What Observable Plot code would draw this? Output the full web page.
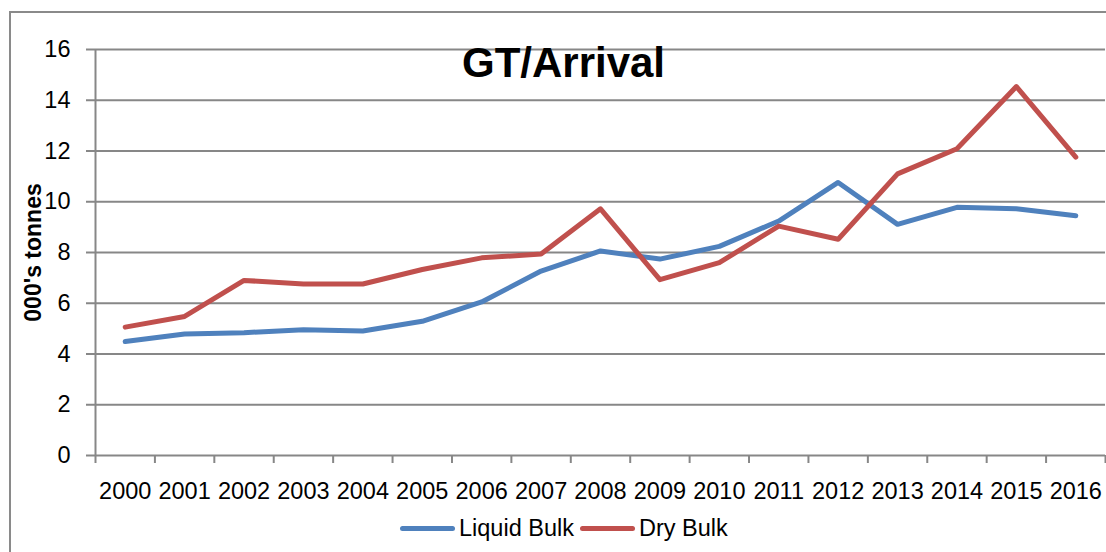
<!DOCTYPE html>
<html>
<head>
<meta charset="utf-8">
<script src="https://cdn.jsdelivr.net/npm/d3@7"></script>
<script src="https://cdn.jsdelivr.net/npm/@observablehq/plot@0.6"></script>
<style>
  html, body { margin: 0; padding: 0; background: #fff; }
  #wrap { position: relative; width: 1106px; height: 552px; overflow: hidden; font-family: "Liberation Sans", Arial, sans-serif; }
  #border { position: absolute; left: 9px; top: 11px; width: 1110px; height: 560px; border-left: 2px solid #8a8a8a; border-top: 2px solid #8a8a8a; pointer-events: none; }
  #legend { position: absolute; left: 0; top: 510px; width: 1106px; height: 36px; display: flex; align-items: center; font-size: 23.5px; color: #000; }
  .sw { display: inline-block; width: 55px; height: 5px; border-radius: 3px; }
</style>
</head>
<body>
<div id="wrap">
  <div id="chart"></div>
  <div id="legend"></div>
  <div id="border"></div>
</div>
<script>
const years = [2000, 2001, 2002, 2003, 2004, 2005, 2006, 2007, 2008, 2009, 2010, 2011, 2012, 2013, 2014, 2015, 2016];
const liquidBulk = [4.49, 4.79, 4.84, 4.96, 4.91, 5.29, 6.05, 7.27, 8.06, 7.74, 8.24, 9.24, 10.76, 9.11, 9.78, 9.72, 9.45];
const dryBulk = [5.06, 5.48, 6.90, 6.76, 6.76, 7.33, 7.79, 7.94, 9.72, 6.93, 7.60, 9.04, 8.52, 11.10, 12.09, 14.54, 11.76];
const seriesNames = ["Liquid Bulk", "Dry Bulk"];
const seriesColors = ["#4F81BD", "#C0504D"];
const yTicks = [0, 2, 4, 6, 8, 10, 12, 14, 16];
const title = "GT/Arrival";
const yLabel = "000's tonnes";

const rows = [];
years.forEach((yr, i) => {
  rows.push({year: yr, value: liquidBulk[i], series: seriesNames[0]});
  rows.push({year: yr, value: dryBulk[i], series: seriesNames[1]});
});
const bounds = [years[0] - 0.5, ...years.map(y => y + 0.5)];
const grid = "#878787";

const chart = Plot.plot({
  width: 1106,
  height: 510,
  marginTop: 49,
  marginBottom: 55,
  marginLeft: 95,
  marginRight: 1,
  style: {fontFamily: "'Liberation Sans', Arial, sans-serif", fontSize: "23.5px", color: "#000", background: "transparent"},
  x: {type: "linear", domain: [bounds[0], bounds[bounds.length - 1]]},
  y: {domain: [0, 16]},
  color: {domain: seriesNames, range: seriesColors},
  marks: [
    Plot.gridY(yTicks, {stroke: grid, strokeOpacity: 1, strokeWidth: 2}),
    Plot.ruleX([bounds[0]], {stroke: grid, strokeWidth: 2}),
    Plot.axisY({ticks: yTicks, tickSize: 9, tickPadding: 16, stroke: grid, strokeWidth: 2, fill: "#000", label: null, tickFormat: d => String(d)}),
    Plot.axisX({ticks: bounds, tickSize: 8, stroke: grid, strokeWidth: 2, tickFormat: () => "", label: null}),
    Plot.axisX({ticks: years, tickSize: 0, tickPadding: 27, fill: "#000", tickFormat: d => String(d), label: null}),
    Plot.line(rows, {x: "year", y: "value", z: "series", stroke: "series", strokeWidth: 5, strokeLinejoin: "round", strokeLinecap: "round"}),
    Plot.text([title], {frameAnchor: "top", dx: -37, dy: 27, lineAnchor: "bottom", fontSize: 42, fontWeight: "bold", fill: "#000"}),
    Plot.text([yLabel], {frameAnchor: "left", textAnchor: "middle", lineAnchor: "middle", dx: -62, rotate: -90, fontSize: 23, fontWeight: "bold", fill: "#000"})
  ]
});
document.getElementById("chart").appendChild(chart);

const legend = document.getElementById("legend");
legend.style.paddingLeft = "400px";
seriesNames.forEach((name, i) => {
  const sw = document.createElement("span");
  sw.className = "sw";
  sw.style.background = seriesColors[i];
  sw.style.marginRight = "4px";
  if (i > 0) sw.style.marginLeft = "6px";
  legend.appendChild(sw);
  const t = document.createElement("span");
  t.textContent = name;
  legend.appendChild(t);
});
</script>
</body>
</html>
